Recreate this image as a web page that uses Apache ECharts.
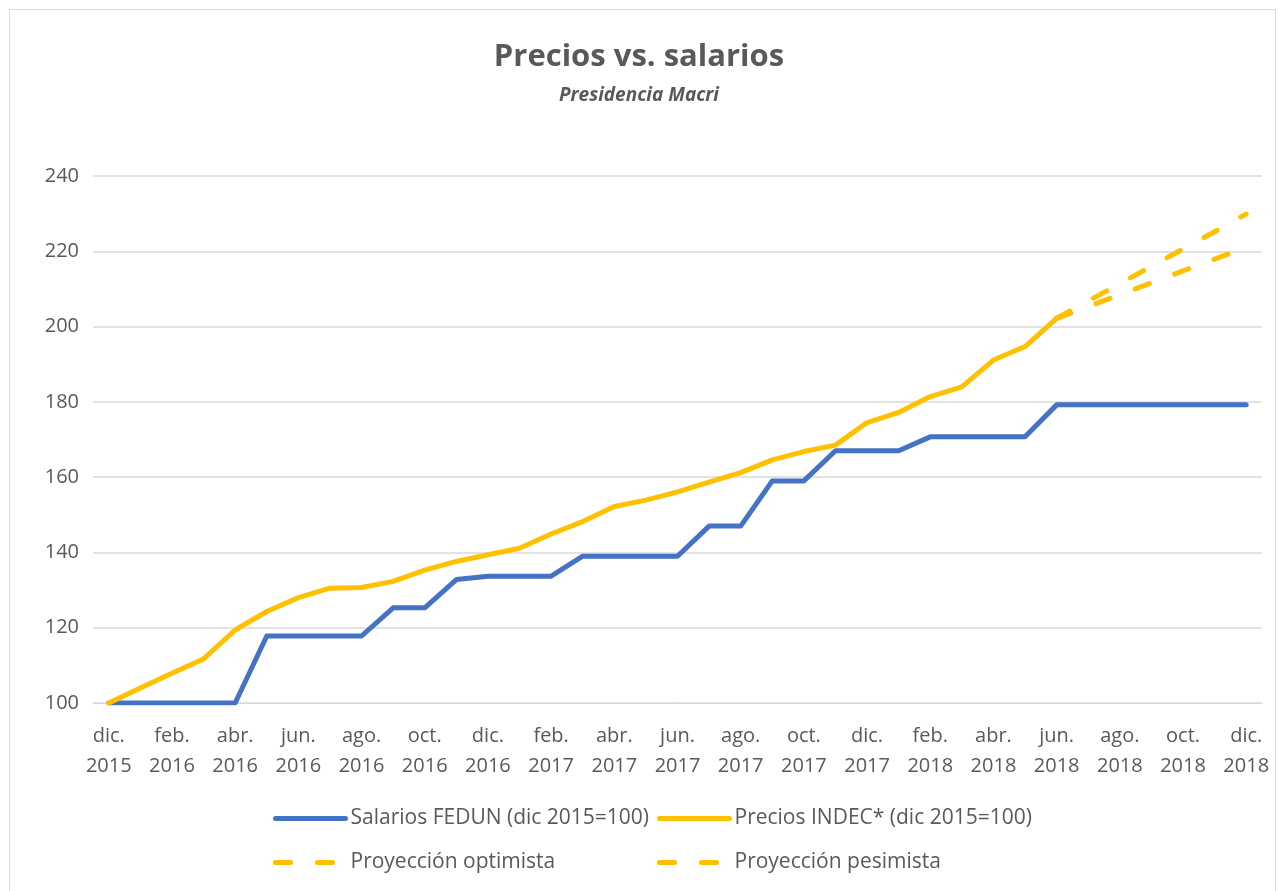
<!DOCTYPE html>
<html>
<head>
<meta charset="utf-8">
<script src="https://cdn.jsdelivr.net/npm/echarts@6/dist/echarts.min.js"></script>
<style>
  html, body { margin: 0; padding: 0; background: #fff; }
  #chart { width: 1278px; height: 891px; }
</style>
</head>
<body>
<div id="chart"></div>
<script>
// meses de dic 2015 a dic 2018
const meses = ['ene.', 'feb.', 'mar.', 'abr.', 'may.', 'jun.', 'jul.', 'ago.', 'sep.', 'oct.', 'nov.', 'dic.']
const anios = [2016, 2017, 2018]

// Salarios FEDUN (dic 2015=100)
const salarios = [
  100, 100, 100, 100, 100, 117.8, 117.8, 117.8, 117.8, 125.3, 125.3, 132.8, 133.7,
  133.7, 133.7, 139, 139, 139, 139, 147, 147, 159, 159, 167, 167,
  167, 170.7, 170.7, 170.7, 170.7, 179.2, 179.2, 179.2, 179.2, 179.2, 179.2, 179.2
]

// Precios INDEC (dic 2015=100), hasta jun. 2018
const precios = [
  100, 104, 107.9, 111.7, 119.4, 124.3, 128, 130.5, 130.7, 132.3, 135.3, 137.6, 139.4,
  141.1, 144.9, 148.2, 152.2, 153.9, 156.1, 158.7, 161.2, 164.6, 166.8, 168.5, 174.5,
  177.2, 181.4, 184.0, 191.1, 194.7, 202.2
]

// proyecciones jun. 2018 - dic. 2018
const optimista = [202.2, 205.3, 208.5, 211.6, 214.8, 217.9, 221.1]
const pesimista = [202.2, 206.8, 211.4, 216.0, 220.6, 225.2, 229.9]

const categorias = ['dic.\n2015']
anios.forEach(a => meses.forEach(m => categorias.push(m + '\n' + a)))

const pad = (arr, n) => new Array(n - arr.length).fill(null).concat(arr)
const fill = (arr, n) => arr.concat(new Array(n - arr.length).fill(null))
const N = categorias.length

const azul = '#4472C4'
const amarillo = '#FFC000'
const gris = '#595959'
const fuente = 'Open Sans'

const chart = echarts.init(document.getElementById('chart'))

const legendBase = (name, left, top) => ({
  data: [name],
  left: left,
  top: top,
  itemWidth: 70,
  itemHeight: 14,
  itemGap: 6,
  itemStyle: { opacity: 0 },
  lineStyle: { width: 5, cap: 'round' },
  textStyle: { color: gris, fontSize: 21, fontFamily: fuente }
})

chart.setOption({
  animation: false,
  textStyle: { fontFamily: fuente },
  graphic: [{
    type: 'rect',
    shape: { x: 9.5, y: 9.5, width: 1266, height: 900 },
    style: { fill: 'none', stroke: '#d9d9d9', lineWidth: 1 },
    silent: true
  }],
  title: {
    text: 'Precios vs. salarios',
    subtext: 'Presidencia Macri',
    left: 'center',
    top: 37,
    itemGap: 13,
    textStyle: { color: gris, fontSize: 31, fontWeight: 'bold', fontFamily: fuente },
    subtextStyle: { color: gris, fontSize: 19, fontWeight: 'bold', fontStyle: 'italic', fontFamily: fuente }
  },
  legend: [
    legendBase('Salarios FEDUN (dic 2015=100)', 268, 803),
    legendBase('Precios INDEC* (dic 2015=100)', 652, 803),
    legendBase('Proyección optimista', 268, 847),
    legendBase('Proyección pesimista', 652, 847)
  ],
  grid: { left: 93, right: 16, top: 176, bottom: 188 },
  xAxis: {
    type: 'category',
    data: categorias,
    boundaryGap: true,
    axisLine: { lineStyle: { color: '#d9d9d9', width: 1 } },
    axisTick: { interval: 1, length: 7, lineStyle: { color: '#d9d9d9' } },
    axisLabel: {
      interval: 1,
      color: gris,
      fontSize: 20,
      fontFamily: fuente,
      lineHeight: 30,
      margin: 18
    }
  },
  yAxis: {
    type: 'value',
    min: 100,
    max: 240,
    interval: 20,
    axisLine: { show: false },
    axisTick: { show: false },
    axisLabel: { color: gris, fontSize: 20, fontFamily: fuente, margin: 14 },
    splitLine: { lineStyle: { color: '#d9d9d9', width: 1.5 } }
  },
  series: [
    {
      name: 'Salarios FEDUN (dic 2015=100)',
      type: 'line',
      data: salarios,
      symbol: 'none',
      color: azul,
      lineStyle: { color: azul, width: 5, cap: 'round', join: 'round' }
    },
    {
      name: 'Precios INDEC* (dic 2015=100)',
      type: 'line',
      data: fill(precios, N),
      symbol: 'none',
      color: amarillo,
      lineStyle: { color: amarillo, width: 5, cap: 'round', join: 'round' }
    },
    {
      name: 'Proyección optimista',
      type: 'line',
      data: pad(optimista, N),
      symbol: 'none',
      color: amarillo,
      lineStyle: { color: amarillo, width: 5, type: [15, 27], cap: 'round' }
    },
    {
      name: 'Proyección pesimista',
      type: 'line',
      data: pad(pesimista, N),
      symbol: 'none',
      color: amarillo,
      lineStyle: { color: amarillo, width: 5, type: [15, 27], cap: 'round' }
    }
  ]
})
</script>
</body>
</html>
